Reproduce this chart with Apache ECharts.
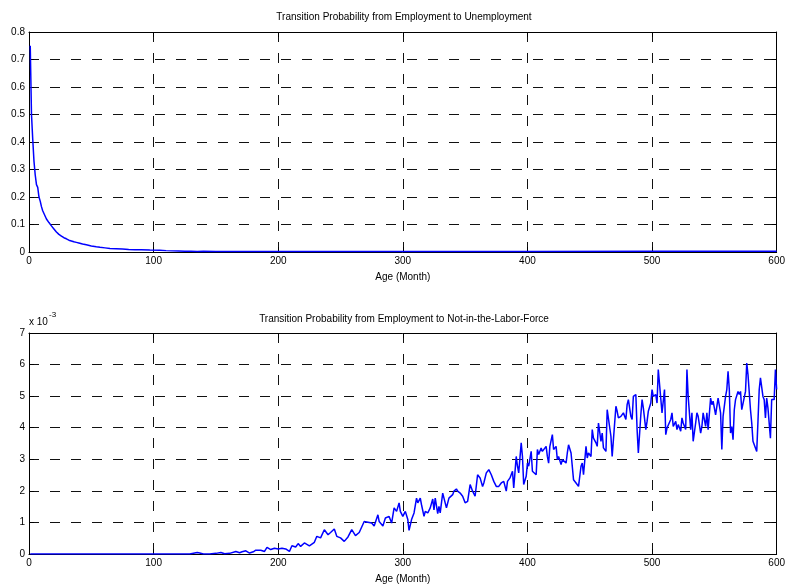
<!DOCTYPE html>
<html>
<head>
<meta charset="utf-8">
<script src="https://cdn.jsdelivr.net/npm/echarts/dist/echarts.min.js"></script>
<style>
  html, body { margin: 0; padding: 0; background: #fff; overflow: hidden; }
  #chart { width: 788px; height: 587px; }
</style>
</head>
<body>
<div id="chart"></div>
<script>
// Employment -> Unemployment transition probability by age (months)
const euMonths = [1, 2, 3, 4, 5, 6, 7, 8, 9, 10, 11, 12, 13, 14, 15, 16, 17, 18, 19, 20,
  21, 22, 23, 24, 25, 26, 27, 28, 29, 30, 32, 34, 36, 38, 40, 43, 46, 50, 54, 57,
  61, 65, 70, 75, 80, 85, 90, 97, 105, 110, 120, 125, 130, 135, 140, 150, 200, 300, 400, 500, 550, 600];
const euValues = [0.75, 0.50, 0.41, 0.33, 0.28, 0.245, 0.235, 0.20, 0.185, 0.165, 0.15, 0.14, 0.13, 0.12, 0.115, 0.107, 0.10, 0.095, 0.089, 0.084,
  0.078, 0.073, 0.068, 0.064, 0.061, 0.058, 0.055, 0.052, 0.05, 0.048, 0.043, 0.040, 0.037, 0.035, 0.033, 0.029, 0.026, 0.022, 0.019, 0.017,
  0.015, 0.013, 0.012, 0.011, 0.009, 0.0085, 0.008, 0.007, 0.006, 0.005, 0.004, 0.003, 0.003, 0.002, 0.003, 0.002, 0.002, 0.002, 0.002, 0.003, 0.003, 0.003];

// Employment -> Not-in-the-Labor-Force transition probability, in units of 10^-3
const nlfMonths = [1, 129, 135, 137, 140, 145, 150, 154, 157, 161, 166, 169, 171, 174, 177, 180, 182, 186, 189, 191,
  194, 197, 200, 203, 206, 209, 211, 214, 216, 218, 221, 225, 229, 231, 234, 237, 240, 242, 245, 247,
  250, 253, 256, 259, 262, 265, 269, 273, 275, 277, 280, 281, 284, 286, 289, 291, 293, 295, 297, 298,
  300, 302, 304, 305, 307, 309, 311, 312, 314, 315, 317, 318, 320, 322, 324, 325, 326, 328, 329, 330,
  332, 333, 335, 337, 340, 341, 343, 344, 346, 348, 350, 352, 354, 356, 358, 360, 362, 364, 365, 367,
  369, 371, 373, 375, 377, 379, 381, 383, 384, 386, 388, 389, 391, 392, 393, 395, 396, 397, 399, 400,
  401, 403, 404, 405, 407, 408, 409, 411, 412, 413, 415, 416, 417, 418, 420, 421, 423, 424, 425, 427,
  428, 429, 431, 432, 433, 435, 436, 437, 439, 440, 441, 443, 444, 445, 447, 448, 449, 451, 452, 453,
  455, 456, 457, 459, 460, 461, 463, 464, 465, 467, 468, 469, 471, 472, 473, 475, 476, 477, 479, 480,
  481, 483, 484, 485, 487, 488, 489, 491, 492, 493, 495, 496, 497, 499, 500, 501, 503, 504, 505, 506,
  508, 509, 510, 511, 512, 513, 515, 516, 517, 519, 520, 521, 523, 524, 525, 527, 528, 529, 530, 531,
  532, 533, 535, 536, 537, 539, 540, 541, 543, 544, 545, 547, 548, 549, 551, 552, 553, 555, 556, 557,
  559, 560, 561, 562, 563, 564, 565, 566, 567, 569, 570, 571, 572, 573, 575, 576, 577, 579, 580, 581,
  582, 584, 585, 586, 587, 589, 590, 591, 592, 593, 595, 596, 597, 598, 599, 600];
const nlfValues = [0, 0, 0.05, 0.03, 0, 0, 0.02, 0.05, 0.01, 0.02, 0.08, 0.04, 0.07, 0.1, 0.03, 0.07, 0.12, 0.12, 0.08, 0.21,
  0.14, 0.18, 0.16, 0.18, 0.16, 0.08, 0.26, 0.22, 0.33, 0.24, 0.35, 0.26, 0.37, 0.56, 0.51, 0.77, 0.61, 0.68, 0.79, 0.56,
  0.51, 0.40, 0.54, 0.77, 0.58, 0.68, 1.03, 1.0, 0.98, 0.89, 1.24, 1.03, 0.89, 1.14, 1.19, 0.98, 1.46, 1.35, 1.62, 1.35,
  1.19, 1.35, 1.09, 0.75, 1.09, 1.30, 1.77, 1.62, 1.77, 1.56, 1.19, 1.35, 1.30, 1.46, 1.74, 1.40, 1.77, 1.28, 1.51, 1.30,
  1.93, 1.99, 1.46, 1.77, 1.88, 1.99, 2.06, 1.99, 1.93, 1.83, 1.62, 1.67, 2.20, 1.99, 1.83, 2.51, 2.41, 2.14, 2.25, 2.57,
  2.67, 2.51, 2.30, 2.14, 2.14, 2.25, 2.30, 1.99, 2.30, 2.41, 2.62, 2.09, 3.09, 2.78, 2.57, 3.52, 3.09, 2.20, 2.46, 2.88,
  2.78, 3.25, 2.62, 2.67, 2.51, 3.31, 3.15, 3.36, 3.25, 3.31, 3.41, 3.09, 2.88, 3.41, 3.78, 3.31, 3.41, 2.99, 3.09, 2.83,
  2.99, 3.04, 2.88, 3.20, 3.46, 3.20, 3.15, 2.35, 2.25, 2.30, 2.14, 2.78, 2.88, 2.51, 3.41, 3.04, 3.20, 3.09, 3.94, 3.67,
  3.52, 3.41, 4.15, 3.57, 3.83, 3.36, 3.25, 4.57, 4.63, 3.73, 3.09, 3.62, 4.68, 4.52, 4.31, 4.36, 4.31, 4.47, 4.26, 4.73,
  4.89, 4.36, 4.26, 4.99, 5.05, 3.94, 3.20, 4.41, 4.89, 4.63, 3.94, 4.20, 4.52, 4.78, 5.21, 4.99, 5.05, 4.78, 5.84, 5.89,
  4.47, 4.52, 5.21, 3.78, 3.99, 4.04, 4.26, 4.47, 4.04, 4.20, 3.94, 4.10, 3.89, 4.31, 4.15, 3.94, 5.84, 4.99, 4.94, 3.94,
  4.47, 3.57, 4.15, 4.47, 4.36, 3.83, 4.04, 4.47, 4.04, 4.47, 3.94, 4.94, 4.73, 4.84, 4.41, 4.36, 4.94, 4.47, 3.31, 4.36,
  4.99, 5.21, 5.79, 5.21, 3.83, 4.04, 3.62, 4.57, 4.89, 5.15, 5.05, 5.15, 4.57, 4.57, 5.15, 6.05, 5.68, 4.57, 4.15, 3.57,
  3.52, 3.25, 4.20, 5.21, 5.58, 4.99, 4.89, 4.31, 4.94, 4.63, 3.67, 4.89, 4.94, 4.89, 5.84, 5.21];

const xTicks = { min: 0, max: 600, interval: 100 };
const topTitle = 'Transition Probability from Employment to Unemployment';
const bottomTitle = 'Transition Probability from Employment to Not-in-the-Labor-Force';
const xName = 'Age (Month)';

const FONT = '"Liberation Sans", Arial, Helvetica, sans-serif';
const dash = { color: '#111', width: 1, type: [10, 11] };

function pairs(xs, ys) { return xs.map((x, i) => [x, ys[i]]); }

function bottomX(gi) {
  return {
    type: 'value', gridIndex: gi, min: xTicks.min, max: xTicks.max, interval: xTicks.interval,
    name: xName, nameLocation: 'middle', nameGap: 20,
    nameTextStyle: { fontFamily: FONT, fontSize: 10, color: '#000' },
    axisLine: { show: true, onZero: false, lineStyle: { color: '#000', width: 1 } },
    axisTick: { show: true, inside: true, length: 5, lineStyle: { color: '#000' } },
    axisLabel: { fontFamily: FONT, fontSize: 10, color: '#000', margin: 4 },
    splitLine: { show: true, lineStyle: dash }
  };
}
function topX(gi) {
  return {
    type: 'value', gridIndex: gi, position: 'top', min: xTicks.min, max: xTicks.max, interval: xTicks.interval,
    axisLine: { show: true, onZero: false, lineStyle: { color: '#000', width: 1 } },
    axisTick: { show: true, inside: true, length: 5, lineStyle: { color: '#000' } },
    axisLabel: { show: false }, splitLine: { show: false }
  };
}
function leftY(gi, max, interval) {
  return {
    type: 'value', gridIndex: gi, min: 0, max: max, interval: interval,
    axisLine: { show: true, onZero: false, lineStyle: { color: '#000', width: 1 } },
    axisTick: { show: true, inside: true, length: 5, lineStyle: { color: '#000' } },
    axisLabel: { fontFamily: FONT, fontSize: 10, color: '#000', margin: 4 },
    splitLine: { show: true, lineStyle: dash }
  };
}
function rightY(gi, max, interval) {
  return {
    type: 'value', gridIndex: gi, position: 'right', min: 0, max: max, interval: interval,
    axisLine: { show: true, onZero: false, lineStyle: { color: '#000', width: 1 } },
    axisTick: { show: true, inside: true, length: 5, lineStyle: { color: '#000' } },
    axisLabel: { show: false }, splitLine: { show: false }
  };
}

const chart = echarts.init(document.getElementById('chart'), null, { renderer: 'canvas', width: 788, height: 587 });
chart.setOption({
  animation: false,
  backgroundColor: '#fff',
  grid: [
    { left: 29, width: 750, top: 32, height: 220, containLabel: false },
    { left: 29, width: 750, top: 333, height: 221, containLabel: false }
  ],
  xAxis: [bottomX(0), topX(0), bottomX(1), topX(1)],
  yAxis: [leftY(0, 0.8, 0.1), rightY(0, 0.8, 0.1), leftY(1, 7, 1), rightY(1, 7, 1)],
  series: [
    { type: 'line', xAxisIndex: 0, yAxisIndex: 0, data: pairs(euMonths, euValues),
      showSymbol: false, lineStyle: { color: '#0000ff', width: 1.5 } },
    { type: 'line', xAxisIndex: 2, yAxisIndex: 2, data: pairs(nlfMonths, nlfValues),
      showSymbol: false, lineStyle: { color: '#0000ff', width: 1.5 } }
  ],
  graphic: [
    { type: 'text', x: 404, y: 17, style: { text: topTitle, font: '10px ' + FONT, fill: '#000', textAlign: 'center', textVerticalAlign: 'middle' } },
    { type: 'text', x: 404, y: 319, style: { text: bottomTitle, font: '10px ' + FONT, fill: '#000', textAlign: 'center', textVerticalAlign: 'middle' } },
    { type: 'text', x: 29, y: 322, style: { text: 'x 10', font: '10px ' + FONT, fill: '#000', textAlign: 'left', textVerticalAlign: 'middle' } },
    { type: 'text', x: 49, y: 315, style: { text: '-3', font: '8px ' + FONT, fill: '#000', textAlign: 'left', textVerticalAlign: 'middle' } }
  ]
});
</script>
</body>
</html>
